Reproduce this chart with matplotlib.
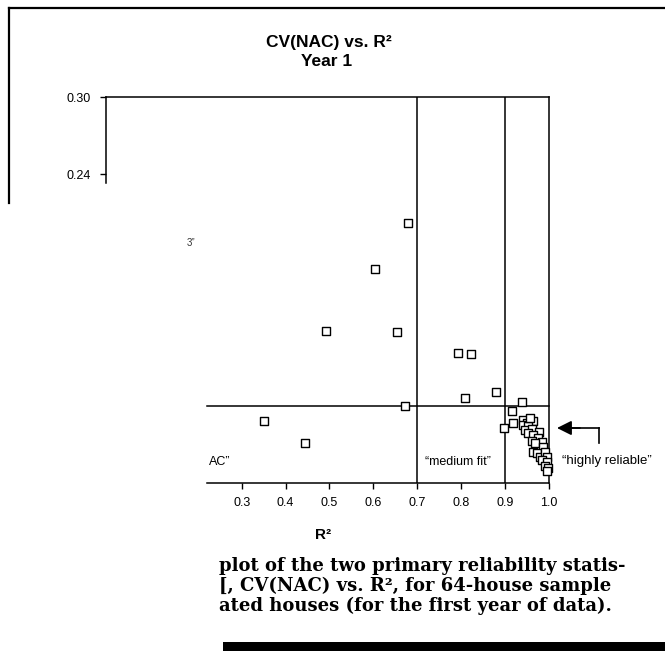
import matplotlib.pyplot as plt
from matplotlib.lines import Line2D
from matplotlib.patches import Rectangle

# R^2 and CV(NAC) for the houses
r2 = [0.678, 0.603, 0.492, 0.654, 0.792, 0.822, 0.879, 0.808, 0.672, 0.352, 0.444,
      0.938, 0.916, 0.897, 0.918, 0.941, 0.950, 0.963, 0.941, 0.952, 0.945, 0.961,
      0.977, 0.952, 0.963, 0.975, 0.984, 0.961, 0.968, 0.986, 0.963, 0.973, 0.979,
      0.991, 0.995, 0.984, 0.995, 0.991, 0.998, 0.995, 0.957]
cv = [0.202, 0.166, 0.118, 0.117, 0.101, 0.100, 0.071, 0.066, 0.060, 0.048, 0.031,
      0.063, 0.056, 0.043, 0.047, 0.049, 0.047, 0.048, 0.045, 0.044, 0.041, 0.042,
      0.040, 0.039, 0.037, 0.035, 0.032, 0.033, 0.031, 0.028, 0.024, 0.023, 0.020,
      0.024, 0.020, 0.018, 0.016, 0.013, 0.012, 0.009, 0.0505]

x_ticks = [0.3, 0.4, 0.5, 0.6, 0.7, 0.8, 0.9, 1.0]
y_ticks = [0.24, 0.30]
r2_limits = [0.7, 0.9]      # "medium fit" / "highly reliable" boundaries
cv_limit = 0.06

caption = ["plot of the two primary reliability statis-",
           "[, CV(NAC) vs. R\u00b2, for 64-house sample",
           "ated houses (for the first year of data)."]

W, H = 665, 651
sans = 'Liberation Sans'

def fx(px):
    return px / W

def fy(py):
    return 1 - py / H

fig = plt.figure(figsize=(W / 100, H / 100), dpi=100)

# outer frame of the scanned page (top and left only)
fig.add_artist(Line2D([fx(9), 1.0], [fy(8), fy(8)], color='black', lw=1.6))
fig.add_artist(Line2D([fx(9), fx(9)], [fy(8), fy(203)], color='black', lw=1.6))

ax = fig.add_axes([fx(106), fy(483), (549 - 106) / W, (483 - 97) / H])
ax.set_xlim(-0.009, 1.0)
ax.set_ylim(0, 0.30)
ax.patch.set_visible(False)

for s in ax.spines.values():
    s.set_linewidth(1.1)
ax.spines['bottom'].set_bounds(0.221, 1.0)
ax.spines['left'].set_bounds(0.233, 0.30)

ax.set_xticks(x_ticks)
ax.set_xticklabels([f'{v:.1f}' for v in x_ticks])
ax.set_yticks(y_ticks)
ax.set_yticklabels([f'{v:.2f}' for v in y_ticks])
ax.tick_params(axis='x', direction='out', length=4, width=1, pad=6, labelsize=9)
ax.tick_params(axis='y', direction='out', length=4, width=1, pad=7, labelsize=9)
for lab in ax.get_xticklabels() + ax.get_yticklabels():
    lab.set_fontfamily(sans)

# region boundaries
for v in r2_limits:
    ax.axvline(v, color='black', lw=1.1)
ax.plot([0.221, 1.0], [cv_limit, cv_limit], color='black', lw=1.1, clip_on=False)

ax.scatter(r2, cv, marker='s', s=30, facecolors='white', edgecolors='black',
           linewidths=1.0, zorder=3, clip_on=False)

# titles and labels
fig.text(fx(329), fy(42), 'CV(NAC) vs. R\u00b2', ha='center', va='center',
         fontsize=12.5, fontweight='bold', family=sans)
fig.text(fx(327), fy(62), 'Year 1', ha='center', va='center',
         fontsize=12.5, fontweight='bold', family=sans)
fig.text(fx(323), fy(535), 'R\u00b2', ha='center', va='center',
         fontsize=11, fontweight='bold', family=sans)

fig.text(fx(209), fy(462), 'AC\u201d', ha='left', va='center', fontsize=9, family=sans)
fig.text(fx(458), fy(462), '\u201cmedium fit\u201d', ha='center', va='center',
         fontsize=9, family=sans)
fig.text(fx(562), fy(461), '\u201chighly reliable\u201d', ha='left', va='center',
         fontsize=9.5, family=sans)
fig.text(fx(187), fy(243), '3\u201d', ha='left', va='center', fontsize=7,
         family=sans, color='#333333')

# arrow pointing at the reliable cluster
fig.add_artist(Line2D([fx(599), fx(599)], [fy(443), fy(428)], color='black', lw=1.2))
fig.add_artist(Line2D([fx(570), fx(599)], [fy(428), fy(428)], color='black', lw=1.2))
ax.annotate('', xy=(fx(557), fy(428)), xytext=(fx(580), fy(428)),
            xycoords='figure fraction', textcoords='figure fraction',
            arrowprops=dict(arrowstyle='-|>', color='black', lw=1.2,
                            mutation_scale=22, shrinkA=0, shrinkB=0))

# caption fragment from the page
for i, line in enumerate(caption):
    fig.text(fx(219), fy(566 + 20 * i), line, ha='left', va='center',
             fontsize=13, fontweight='bold', family='DejaVu Serif')

fig.add_artist(Rectangle((fx(223), 0), 1 - fx(223), fy(642), color='black', lw=0))

fig.savefig('out.png', dpi=100)
